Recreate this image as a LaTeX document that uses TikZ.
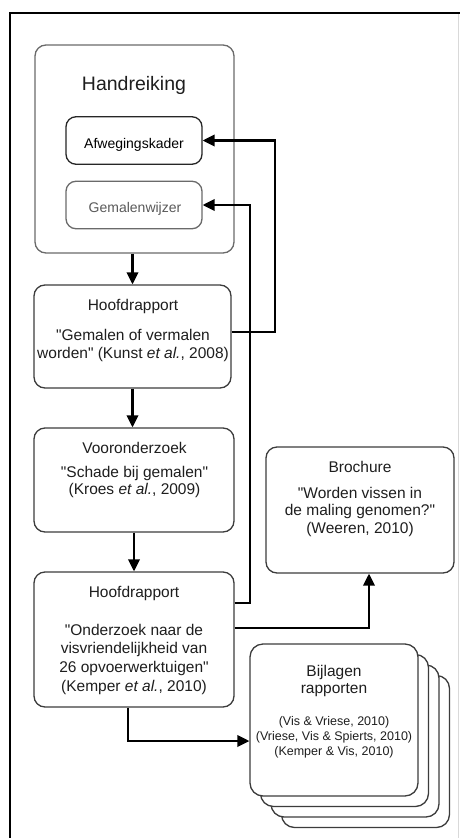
\documentclass[tikz,border=0pt]{standalone}
\usepackage{fontspec}
\setmainfont{Liberation Sans}[Ligatures=TeXOff]
\usepackage{tikz}
\usetikzlibrary{arrows.meta,calc}
\definecolor{lijn}{HTML}{3C3C3C}
\definecolor{lijnlicht}{HTML}{6A6A6A}
\definecolor{tekst}{HTML}{1E1E1E}
\definecolor{tekstgrijs}{HTML}{5A5A5A}

\begin{document}
\begin{tikzpicture}[x=1pt,y=-1pt,
    blok/.style  = {rectangle,rounded corners=11pt,draw=lijn,line width=1.3pt,fill=white,
                    inner sep=0pt},
    klein/.style = {blok,rounded corners=10pt,minimum width=136pt,minimum height=47.5pt},
    stapel/.style= {blok,rounded corners=13pt,minimum width=168pt,minimum height=152pt},
    txt/.style   = {inner sep=0pt,align=center,text=tekst,font=\fontsize{15.5}{18}\selectfont},
    fl/.style    = {-{Triangle[length=12pt,width=11.5pt]},line width=2.2pt},
  ]
  \useasboundingbox (0,0) rectangle (460,838);

  % kader
  \draw[line width=2pt] (460,13) -- (10,13) -- (10,838);
  \draw[gray!30,line width=0.8pt] (458.5,14) -- (458.5,838);

  % Handreiking
  \node[blok,draw=lijnlicht,minimum width=199pt,minimum height=208pt] (hand) at (134.5,149) {};
  \node[txt,font=\fontsize{19.5}{22}\selectfont,anchor=base] (handtitel) at (134,90) {Handreiking};
  \node[klein,draw=black!85] (afweg) at (134,140.5) {};
  \node[txt,font=\fontsize{14}{16}\selectfont,anchor=base,text=black] (afwegtxt) at (134,148.3)
       {Afwegingskader};
  \node[klein,draw=lijnlicht] (gemal) at (134,205) {};
  \node[txt,font=\fontsize{14}{16}\selectfont,anchor=base,text=tekstgrijs] (gemaltxt) at (135,212.7)
       {Gemalenwijzer};

  % rapporten
  \node[blok,minimum width=197pt,minimum height=103pt] (hoofd1) at (132.5,336.5) {};
  \node[txt,anchor=north] (hoofd1txt) at (133,299.4)
       {Hoofdrapport\\[12pt] "Gemalen of vermalen\\ worden" (Kunst \textit{et al.}, 2008)};

  \node[blok,minimum width=200pt,minimum height=104pt] (voor) at (134,480) {};
  \node[txt,anchor=north,font=\fontsize{15.5}{17.5}\selectfont] (voortxt) at (134.5,442)
       {Vooronderzoek\\[6.5pt] "Schade bij gemalen"\\ (Kroes \textit{et al.}, 2009)};

  \node[blok,minimum width=188pt,minimum height=126pt] (broch) at (360,510) {};
  \node[txt,anchor=north,font=\fontsize{15.5}{17.3}\selectfont] (brochtxt) at (360,461)
       {Brochure\\[8.7pt] "Worden vissen in\\ de maling genomen?"\\ (Weeren, 2010)};

  \node[blok,minimum width=200pt,minimum height=135pt] (hoofd2) at (134,639.5) {};
  \node[txt,anchor=north,font=\fontsize{15.5}{18.7}\selectfont] (hoofd2txt) at (134,586)
       {Hoofdrapport\\[19pt] "Onderzoek naar de\\ visvriendelijkheid van\\ 26 opvoerwerktuigen"\\
        (Kemper \textit{et al.}, 2010)};

  % bijlagen, gestapeld
  \foreach \k in {3,2,1}
    \node[stapel] (bijl\k) at (334+10.5*\k,720+10.5*\k) {};
  \node[stapel] (bijl) at (334,720) {};
  \node[txt,anchor=north,font=\fontsize{15.5}{17.3}\selectfont] (bijltitel) at (334,665)
       {Bijlagen\\ rapporten};
  \node[txt,anchor=north,font=\fontsize{12.5}{14.7}\selectfont] (bijlrefs) at (334,716.6)
       {(Vis \& Vriese, 2010)\\ (Vriese, Vis \& Spierts, 2010)\\ (Kemper \& Vis, 2010)};

  % verbindingen
  \draw[fl] (hand.south -| hoofd1.north) -- (hoofd1.north);
  \draw[fl] (hoofd1.south) -- (hoofd1.south |- voor.north);
  \draw[fl] (voor.south) -- (voor.south |- hoofd2.north);
  \draw[fl] ([yshift=4.5pt]hoofd1.east) -- ++(43,0) |- (afweg.east);
  \draw[fl] ([yshift=36.5pt]hoofd2.east) -- ++(15,0) |- (gemal.east);
  \draw[fl] ([yshift=11.5pt]hoofd2.east) -| ([xshift=9pt]broch.south);
  \draw[fl] ([xshift=-6pt]hoofd2.south) |- ([yshift=-21pt]bijl.west);

\end{tikzpicture}
\end{document}
